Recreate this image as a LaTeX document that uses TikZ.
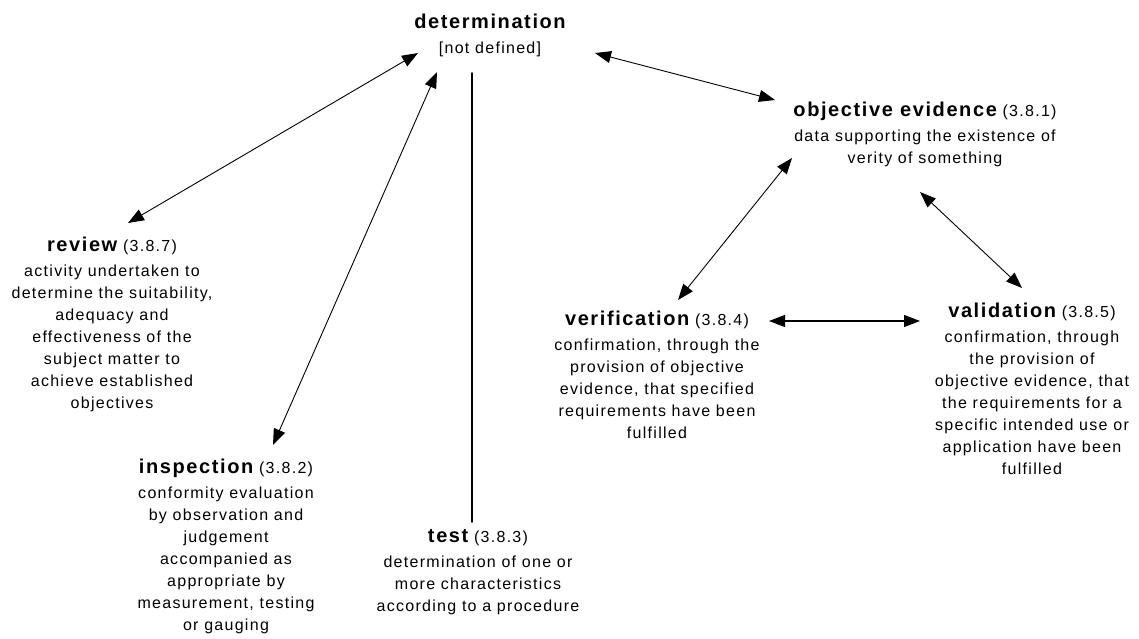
\documentclass[tikz,border=0pt]{standalone}
\usepackage{fontspec}
\setmainfont{Liberation Sans}[LetterSpace=8]
\usetikzlibrary{arrows.meta}
\newcommand{\tname}[1]{{\fontsize{20}{22}\selectfont\bfseries #1}}

\begin{document}
\begin{tikzpicture}[x=1pt,y=1pt,line cap=round,line join=round,
  >={Triangle[length=16pt,width=12pt]},
  term/.style={align=center,inner sep=0pt,anchor=north,font=\fontsize{16}{22}\selectfont},
  link/.style={<->,line width=0.9pt}]
\useasboundingbox (0,0) rectangle (1139,-639);
\node[term] (det) at (490,-14) {\tname{determination}\\[3pt][not defined]};
\node[term] (obj) at (925,-102) {\tname{objective evidence} (3.8.1)\\[3pt]data supporting the existence of\\verity of something};
\node[term] (rev) at (112,-237) {\tname{review} (3.8.7)\\[3pt]activity undertaken to\\determine the suitability,\\adequacy and\\effectiveness of the\\subject matter to\\achieve established\\objectives};
\node[term] (ver) at (657,-311) {\tname{verification} (3.8.4)\\[3pt]confirmation, through the\\provision of objective\\evidence, that specified\\requirements have been\\fulfilled};
\node[term] (val) at (1032,-303) {\tname{validation} (3.8.5)\\[3pt]confirmation, through\\the provision of\\objective evidence, that\\the requirements for a\\specific intended use or\\application have been\\fulfilled};
\node[term] (insp) at (226,-459) {\tname{inspection} (3.8.2)\\[3pt]conformity evaluation\\by observation and\\judgement\\accompanied as\\appropriate by\\measurement, testing\\or gauging};
\node[term] (test) at (478,-529) {\tname{test} (3.8.3)\\[3pt]determination of one or\\more characteristics\\according to a procedure};
\draw[link] ([shift={(-72,-39)}]det.north) -- ([shift={(16,14)}]rev.north);
\draw[link] ([shift={(-53,-58)}]det.north) -- ([shift={(47,14)}]insp.north);
\draw[line width=1.6pt] ([shift={(-18,-59)}]det.north) -- ([shift={(-6,7)}]test.north);
\draw[link] ([shift={(105,-39)}]det.north) -- ([shift={(-150,2)}]obj.north);
\draw[link] ([shift={(-133,-56)}]obj.north) -- ([shift={(21,11)}]ver.north);
\draw[link] ([shift={(-5,-90)}]obj.north) -- ([shift={(-10,15)}]val.north);
\draw[link,line width=1.3pt] ([shift={(112,-10)}]ver.north) -- ([shift={(-112,-18)}]val.north);
\end{tikzpicture}
\end{document}
